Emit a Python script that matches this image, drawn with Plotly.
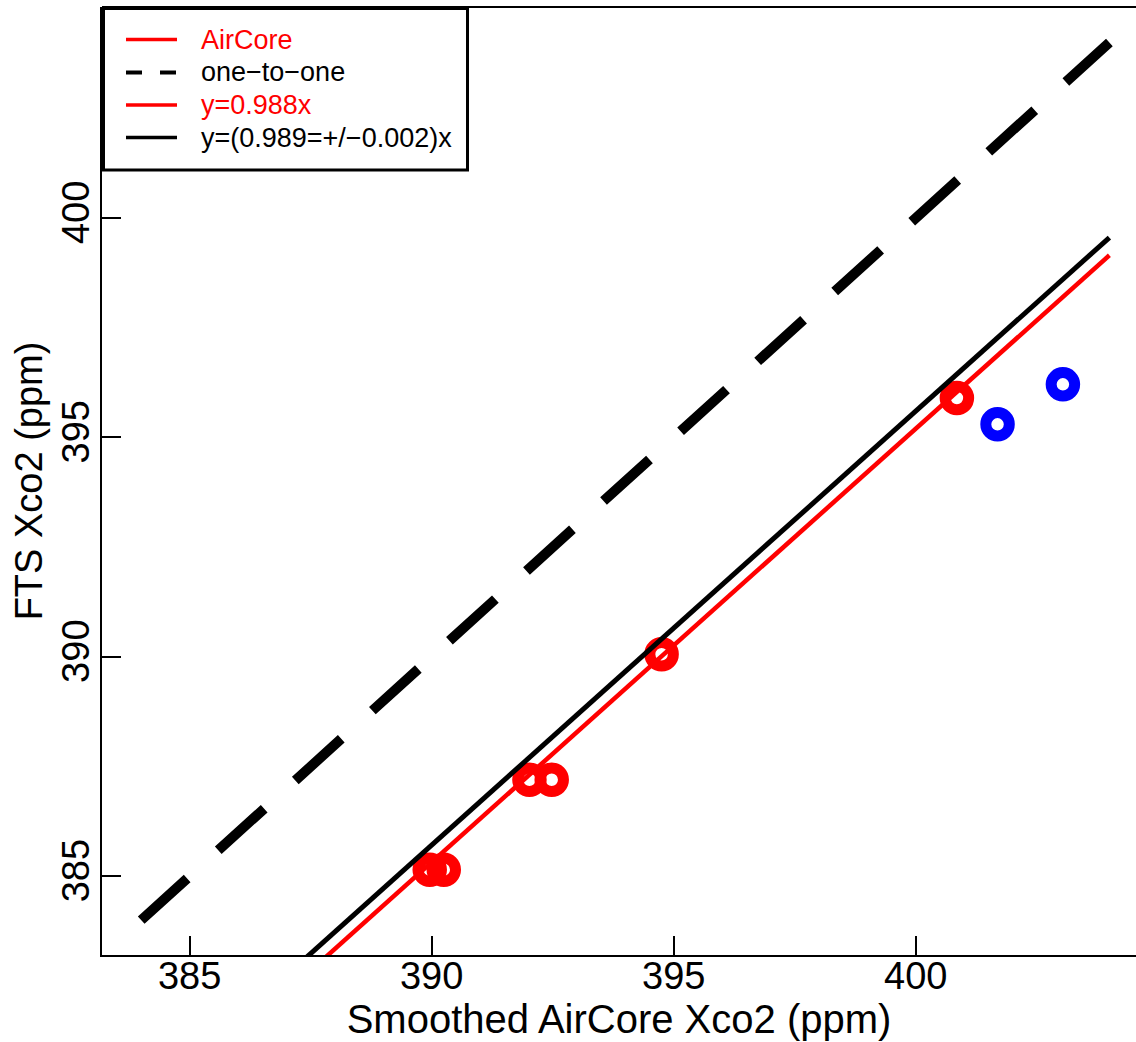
import plotly.graph_objects as go

# Smoothed AirCore vs FTS column-averaged CO2 (ppm)
aircore_x = [389.96, 390.25, 392.02, 392.48, 394.75, 400.85]
aircore_y = [385.15, 385.15, 387.20, 387.20, 390.06, 395.90]
other_x = [401.69, 403.04]
other_y = [395.30, 396.21]

# fitted slopes (lines through the origin) and the span they are drawn over
slope_red = 0.988
slope_black = 0.989
line_span = [384, 404]

x_ticks = [385, 390, 395, 400]
y_ticks = [385, 390, 395, 400]

legend_labels = ["AirCore", "one\u2212to\u2212one", "y=0.988x", "y=(0.989=+/\u22120.002)x"]
legend_colors = ["#ff0000", "#000000", "#ff0000", "#000000"]

W, H = 1136, 1042
PL, PT, PR, PB = 102, 7, 0, 87
PW, PH = W - PL - PR, H - PT - PB
FONT = "Liberation Sans, Arial, Helvetica, sans-serif"


def px(xp):
    return (xp - PL) / PW


def py(yp):
    return 1 - (yp - PT) / PH


fig = go.Figure()

fig.add_trace(go.Scatter(
    x=aircore_x, y=aircore_y, mode="markers", showlegend=False,
    marker=dict(symbol="circle-open", size=23.5, color="#ff0000",
                line=dict(width=11, color="#ff0000")),
))
fig.add_trace(go.Scatter(
    x=other_x, y=other_y, mode="markers", showlegend=False,
    marker=dict(symbol="circle-open", size=23.5, color="#0000ff",
                line=dict(width=11, color="#0000ff")),
))

# one-to-one reference
fig.add_trace(go.Scatter(
    x=line_span, y=line_span, mode="lines", showlegend=False,
    line=dict(color="#000000", width=10, dash="62px,42px"),
))
# regression lines
fig.add_trace(go.Scatter(
    x=line_span, y=[slope_red * v for v in line_span], mode="lines", showlegend=False,
    line=dict(color="#ff0000", width=4.5),
))
fig.add_trace(go.Scatter(
    x=line_span, y=[slope_black * v for v in line_span], mode="lines", showlegend=False,
    line=dict(color="#000000", width=5),
))

shapes = [
    # top edge of the plot box
    dict(type="line", xref="paper", yref="paper", x0=0, x1=1, y0=1, y1=1,
         line=dict(color="#000000", width=2)),
    # legend frame
    dict(type="rect", xref="paper", yref="paper",
         x0=px(103.5), x1=px(467.5), y0=py(170), y1=py(8.5),
         line=dict(color="#000000", width=3), fillcolor="rgba(0,0,0,0)"),
]

annotations = []
row_y = [39.5, 72.5, 105.0, 137.5]
for i, (lab, col) in enumerate(zip(legend_labels, legend_colors)):
    yy = py(row_y[i])
    if i == 1:
        for a, b in [(126, 142), (160, 176)]:
            shapes.append(dict(type="line", xref="paper", yref="paper",
                               x0=px(a), x1=px(b), y0=yy, y1=yy,
                               line=dict(color=col, width=4)))
    else:
        shapes.append(dict(type="line", xref="paper", yref="paper",
                           x0=px(126), x1=px(177), y0=yy, y1=yy,
                           line=dict(color=col, width=3.5)))
    annotations.append(dict(
        xref="paper", yref="paper", x=px(199), y=yy, xanchor="left", yanchor="middle",
        text=lab, showarrow=False, font=dict(family=FONT, size=27, color=col),
    ))

axis_common = dict(
    showgrid=False, zeroline=False, showline=True, linecolor="#000000", linewidth=2,
    ticks="inside", ticklen=19, tickwidth=2, tickcolor="#000000",
    tickfont=dict(family=FONT, size=38, color="#000000"),
)

fig.update_layout(
    width=W, height=H,
    margin=dict(l=PL, r=PR, t=PT, b=PB),
    paper_bgcolor="#ffffff", plot_bgcolor="#ffffff",
    showlegend=False,
    xaxis=dict(range=[383.19, 404.55], tickvals=x_ticks, automargin=False,
               ticklabelstandoff=-14,
               title=dict(text="Smoothed AirCore Xco2 (ppm)", standoff=0,
                          font=dict(family=FONT, size=40, color="#000000")),
               **axis_common),
    yaxis=dict(range=[383.206, 404.81], tickvals=y_ticks, tickangle=-90, automargin=False,
               ticklabelstandoff=-4,
               title=dict(text="FTS Xco2 (ppm)", standoff=0,
                          font=dict(family=FONT, size=38, color="#000000")),
               **axis_common),
    shapes=shapes,
    annotations=annotations,
)

fig.write_html("out.html")
